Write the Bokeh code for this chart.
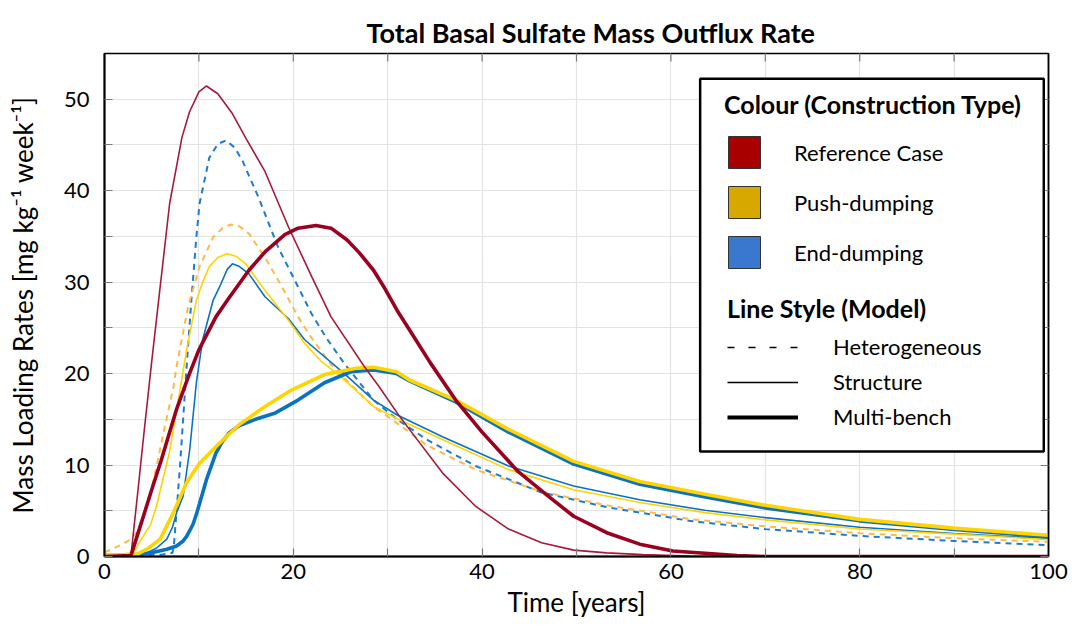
from bokeh.plotting import figure
from bokeh.models import FixedTicker, LinearAxis, Legend, LegendItem, BoxAnnotation, Range1d
from bokeh.embed import file_html
from bokeh.resources import INLINE

FONT = "Lato"
TITLE = "Total Basal Sulfate Mass Outflux Rate"
X_LABEL = "Time [years]"
Y_LABEL = "Mass Loading Rates [mg kg\u207b\u00b9 week\u207b\u00b9]"
X_TICKS = [0, 20, 40, 60, 80, 100]
X_MINOR = [10, 30, 50, 70, 90]
Y_TICKS = [0, 10, 20, 30, 40, 50]
Y_MINOR = [5, 15, 25, 35, 45]

COLOUR_LABELS = ["Reference Case", "Push-dumping", "End-dumping"]
MODEL_LABELS = ["Heterogeneous", "Structure", "Multi-bench"]
COLOUR_TITLE = "Colour (Construction Type)"
MODEL_TITLE = "Line Style (Model)"

# Reference Case - Structure
ref_struct_x = [0, 1, 2, 2.8, 3.5, 4.15, 5, 5.7, 6.9, 8.2, 9.0, 10.0, 10.8, 12, 13.5, 15, 17, 19.5, 22, 24, 27.5, 29,
                31, 32.3, 35.8, 39.3, 42.8, 46.3, 49.7, 53.2, 57, 62, 70, 80, 90, 100]
ref_struct_y = [0, 0, 0, 0.1, 6.8, 13.2, 21.3, 27.7, 38.6, 45.8, 48.6, 50.8, 51.45, 50.6, 48.5, 45.7, 42.1, 36.0, 30.5,
                26.2, 20.8, 18.7, 15.7, 13.9, 9.15, 5.5, 3.0, 1.5, 0.7, 0.4, 0.2, 0.05, 0, 0, 0, 0]
# Reference Case - Multi-bench
ref_multi_x = [0, 2.8, 4, 5, 6, 7.6, 9, 10, 11.8, 13.2, 15.3, 17, 19.1, 20.5, 22.4, 24, 25.7, 27, 28.5, 29.7, 31, 32.3,
               34.5, 37.2, 40, 43.8, 47, 49.7, 53.2, 56.7, 60.2, 63.6, 67, 70, 100]
ref_multi_y = [0, 0.1, 4.0, 7.3, 10.5, 16.0, 20.0, 22.6, 26.2, 28.3, 31.3, 33.3, 35.2, 35.9, 36.2, 35.9, 34.6, 33.2,
               31.3, 29.3, 26.9, 24.8, 21.2, 17.1, 13.6, 9.3, 6.6, 4.4, 2.6, 1.35, 0.6, 0.35, 0.1, 0, 0]
# Push-dumping - Heterogeneous
push_het_x = [0, 1, 2, 2.8, 3.5, 4.2, 4.85, 5.55, 6.24, 7.3, 7.64, 8.85, 10.07, 11.5, 12.5, 13.4, 14.3, 15.3, 17.0,
              18.8, 20.5, 22, 24.0, 26, 28.5, 30.95, 34.1, 39.3, 46.3, 53.2, 62.3, 70, 80, 90, 100]
push_het_y = [0.45, 0.9, 1.4, 1.9, 2.8, 4.5, 6.8, 10.0, 13.5, 18.5, 20.8, 27.3, 31.7, 34.9, 35.9, 36.3, 36.1, 35.3,
              32.7, 29.5, 26.2, 23.8, 21.0, 18.9, 16.4, 14.6, 12.2, 9.5, 7.1, 5.6, 4.06, 3.3, 2.55, 2.0, 1.6]
# Push-dumping - Structure
push_struct_x = [0, 1, 2, 3, 3.5, 4.2, 4.85, 5.5, 6.2, 6.9, 7.64, 8.7, 9.73, 10.4, 11.1, 12, 13.0, 14.0, 14.95, 17.0,
                 19.5, 21.2, 23, 25.0, 28.5, 30.95, 35.8, 42.8, 49.7, 56.7, 63.6, 70, 80, 90, 100]
push_struct_y = [0.2, 0.25, 0.3, 0.4, 1.2, 2.4, 3.4, 5.5, 8.5, 11.5, 16.0, 22.6, 28.0, 30.0, 31.7, 32.7, 33.1, 32.8,
                 32.0, 29.1, 25.8, 23.3, 21.3, 19.7, 16.4, 15.1, 12.8, 9.5, 7.3, 5.9, 4.8, 4.0, 3.0, 2.45, 1.85]
# Push-dumping - Multi-bench
push_multi_x = [0, 2, 3.5, 4.5, 5.9, 7.3, 8.7, 10.07, 11.8, 14.25, 17.0, 19.8, 23.3, 26.8, 28.5, 30.95, 32.3, 37.2,
                42.8, 49.7, 56.7, 63.65, 70, 80, 90, 100]
push_multi_y = [0.1, 0.15, 0.3, 0.8, 1.9, 4.8, 8.1, 10.2, 12.0, 14.4, 16.4, 18.2, 19.9, 20.6, 20.7, 20.2, 19.3, 17.1,
                13.9, 10.4, 8.2, 6.8, 5.6, 4.06, 3.1, 2.32]
# End-dumping - Heterogeneous
end_het_x = [0, 2, 4, 6, 7.2, 7.35, 7.6, 8.0, 8.7, 9.2, 9.73, 10.07, 11.1, 12.0, 12.86, 13.8, 14.6, 16.3, 18.4, 20.5,
             21.9, 23.5, 25.4, 28.5, 31, 34.1, 39.3, 46.3, 53.2, 62.3, 70, 80, 90, 100]
end_het_y = [0.1, 0.1, 0.1, 0.2, 0.4, 1.2, 4.5, 9.9, 20.8, 28.0, 34.9, 38.6, 43.6, 45.1, 45.5, 44.7, 43.3, 39.3, 33.8,
             29.5, 26.6, 23.9, 21.1, 17.1, 15.0, 12.8, 9.9, 7.0, 5.4, 3.85, 3.0, 2.25, 1.7, 1.23]
# End-dumping - Structure
end_struct_x = [0, 2, 3.5, 4.5, 5.5, 6.6, 7.2, 7.64, 8.33, 9.03, 9.73, 10.4, 11.5, 12.2, 13.0, 13.55, 14.3, 15.3, 17.0,
                19.5, 21.2, 25.4, 28.5, 30.95, 35.8, 42.8, 49.7, 56.7, 63.6, 70, 80, 90, 100]
end_struct_y = [0.1, 0.1, 0.15, 0.4, 0.9, 1.9, 3.2, 4.8, 6.6, 11.7, 19.0, 23.7, 28.0, 29.5, 31.4, 32.0, 31.7, 30.9,
                28.4, 26.0, 23.7, 20.0, 17.1, 15.5, 13.1, 9.9, 7.7, 6.2, 5.05, 4.25, 3.2, 2.5, 1.96]
# End-dumping - Multi-bench
end_multi_x = [0, 2, 3.8, 5, 6.6, 7.64, 8.33, 8.7, 9.37, 9.73, 10.07, 10.8, 11.8, 12.5, 13.2, 14.25, 16.0, 18.1, 20.5,
               23.3, 26.1, 28.5, 30.95, 32.3, 37.2, 42.8, 49.7, 56.7, 63.65, 70, 80, 90, 100]
end_multi_y = [0.1, 0.1, 0.25, 0.4, 0.8, 1.15, 1.7, 2.2, 3.5, 4.6, 5.8, 8.4, 11.3, 12.6, 13.5, 14.3, 15.0, 15.7, 17.1,
               19.0, 20.2, 20.4, 20.0, 19.2, 16.9, 13.6, 10.1, 7.9, 6.5, 5.3, 3.9, 2.95, 2.14]

NAN = float("nan")
X0, X1 = 0, 100
Y0, Y1 = 0, 55
FRAME_H = 622 - 53 - 66
TICK_PX = 8

p = figure(width=1068, height=622, output_backend="svg", toolbar_location=None,
           x_range=Range1d(X0, X1), y_range=Range1d(Y0, Y1),
           min_border_left=104, min_border_right=20, min_border_top=53, min_border_bottom=66,
           title=TITLE)
p.background_fill_color = "white"
p.border_fill_color = "white"
p.outline_line_color = "black"
p.outline_line_width = 1.5

p.title.text_font = FONT
p.title.text_font_size = "27px"
p.title.text_font_style = "bold"
p.title.text_color = "black"
p.title.align = "left"
p.title.offset = 262
p.title.standoff = 10

def style_axis(ax, labels=True):
    ax.axis_line_color = "black"
    ax.axis_line_width = 2
    ax.major_tick_in = TICK_PX
    ax.major_tick_out = 0
    ax.minor_tick_in = TICK_PX
    ax.minor_tick_out = 0
    ax.major_tick_line_color = "#7a7a7a"
    ax.minor_tick_line_color = "#7a7a7a"
    ax.major_tick_line_width = 1.2
    ax.minor_tick_line_width = 1.2
    ax.major_label_text_font = FONT
    ax.major_label_text_font_size = "22px"
    ax.major_label_text_color = "black"
    ax.axis_label_text_font = FONT
    ax.axis_label_text_font_size = "26px"
    ax.axis_label_text_font_style = "normal"
    ax.axis_label_text_color = "black"
    if not labels:
        ax.major_label_overrides = {t: "" for t in ax.ticker.ticks}
        ax.major_label_standoff = 0
        ax.axis_line_width = 1.5

p.xaxis.ticker = FixedTicker(ticks=X_TICKS, minor_ticks=X_MINOR)
p.yaxis.ticker = FixedTicker(ticks=Y_TICKS, minor_ticks=Y_MINOR)
style_axis(p.xaxis[0])
style_axis(p.yaxis[0])
p.xaxis.axis_label = X_LABEL
p.yaxis.axis_label = Y_LABEL
p.xaxis.major_label_standoff = 7
p.xaxis.axis_label_standoff = 4
p.yaxis.major_label_standoff = 15
p.yaxis.axis_label_standoff = 22

right_ax = LinearAxis(ticker=FixedTicker(ticks=Y_TICKS, minor_ticks=Y_MINOR))
style_axis(right_ax, labels=False)
p.add_layout(right_ax, "right")

for g in (p.xgrid[0], p.ygrid[0]):
    g.grid_line_color = "#e3e3e3"
    g.grid_line_width = 1.2
    g.minor_grid_line_color = "#e3e3e3"
    g.minor_grid_line_width = 1.2

# inward tick marks along the top edge of the frame, at the same x ticks
top_tick_x = X_TICKS + X_MINOR
tick_len = TICK_PX * (Y1 - Y0) / FRAME_H
p.segment(x0=top_tick_x, x1=top_tick_x, y0=[Y1] * len(top_tick_x), y1=[Y1 - tick_len] * len(top_tick_x),
          line_color="#7a7a7a", line_width=1.2)

RED_THIN = "#a8193a"
RED_THICK = "#9a001f"
YELLOW = "#ffd400"
ORANGE = "#ffb84a"
BLUE = "#0a72c2"
BLUE_D = "#1c7cd0"

p.line(end_het_x, end_het_y, line_color=BLUE_D, line_width=2, line_dash="6 5")
p.line(push_het_x, push_het_y, line_color=ORANGE, line_width=2, line_dash="6 5")
p.line(end_struct_x, end_struct_y, line_color=BLUE, line_width=1.6)
p.line(push_struct_x, push_struct_y, line_color=YELLOW, line_width=1.6)
p.line(end_multi_x, end_multi_y, line_color=BLUE, line_width=3.6)
p.line(push_multi_x, push_multi_y, line_color=YELLOW, line_width=3.6)
p.line(ref_struct_x, ref_struct_y, line_color=RED_THIN, line_width=1.6)
p.line(ref_multi_x, ref_multi_y, line_color=RED_THICK, line_width=3.6)

# legend frame (drawn in data units over the empty upper-right area)
box = BoxAnnotation(left=63.1, right=99.5, bottom=11.48, top=52.24,
                    fill_color="white", fill_alpha=1.0, line_color="black", line_alpha=1.0, line_width=2.5)
p.add_layout(box)

SWATCH = ["#a80000", "#d6a800", "#3a78d0"]
sw_r = [p.quad(left=[NAN], right=[NAN], top=[NAN], bottom=[NAN], fill_color=c, line_color="#333333", line_width=1)
        for c in SWATCH]
ls_r = [p.line([NAN], [NAN], line_color="black", line_width=1.6, line_dash="7 14"),
        p.line([NAN], [NAN], line_color="black", line_width=1.6),
        p.line([NAN], [NAN], line_color="black", line_width=4)]

leg1 = Legend(items=[LegendItem(label=l, renderers=[r]) for l, r in zip(COLOUR_LABELS, sw_r)],
              title=COLOUR_TITLE, location=(620, 284))
leg2 = Legend(items=[LegendItem(label=l, renderers=[r]) for l, r in zip(MODEL_LABELS, ls_r)],
              title=MODEL_TITLE, location=(623, 126))
for lg in (leg1, leg2):
    lg.padding = 0
    lg.margin = 0
    lg.border_line_color = None
    lg.background_fill_alpha = 0
    lg.title_text_font = FONT
    lg.title_text_font_size = "25px"
    lg.title_text_font_style = "bold"
    lg.title_text_color = "black"
    lg.label_text_font = FONT
    lg.label_text_font_size = "22px"
    lg.label_text_color = "black"
leg1.glyph_width = 40
leg1.glyph_height = 40
leg1.spacing = 10
leg1.label_standoff = 30
leg1.title_standoff = 13
leg2.glyph_width = 71
leg2.glyph_height = 24
leg2.spacing = 8
leg2.label_standoff = 35
leg2.title_standoff = 10
p.add_layout(leg1)
p.add_layout(leg2)

open("out.html", "w").write(file_html(p, INLINE))
